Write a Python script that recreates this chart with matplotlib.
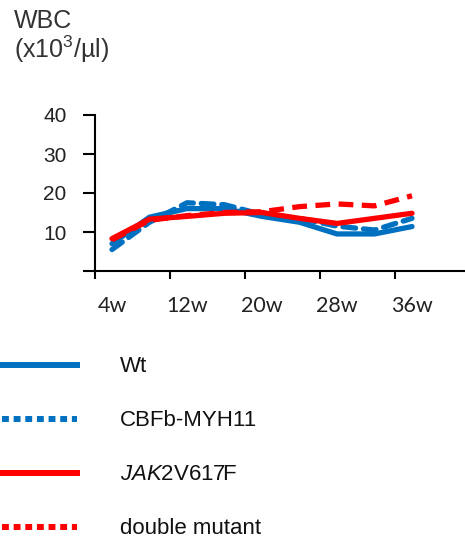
import numpy as np
import matplotlib.pyplot as plt
from matplotlib.lines import Line2D

plt.rcParams['font.family'] = ['Liberation Sans', 'DejaVu Sans']
plt.rcParams['mathtext.fontset'] = 'custom'
plt.rcParams['mathtext.rm'] = 'Liberation Sans'
plt.rcParams['mathtext.it'] = 'Liberation Sans:italic'

# data
weeks = [4, 8, 12, 16, 20, 24, 28, 32, 36]
wt = [7.0, 13.8, 16.0, 16.0, 14.0, 12.5, 9.5, 9.5, 11.4]
cbfb = [5.5, 12.5, 17.5, 17.0, 14.5, 13.5, 11.5, 10.5, 13.5]
jak2 = [8.3, 13.3, 14.0, 14.8, 15.0, 13.5, 12.2, 13.5, 14.8]
double = [8.0, 13.0, 14.2, 15.0, 15.2, 16.5, 17.2, 16.7, 19.3]
xlabels = ['4w', '12w', '20w', '28w', '36w']
yticks = [10, 20, 30, 40]

blue = '#0070C0'
red = '#FF0000'

W, H = 465, 542
fig = plt.figure(figsize=(W/100, H/100), dpi=100)
ax = fig.add_axes([95/W, 1-271/H, (W-95)/W, 156/H])

off = 17/9.375  # tick marks sit left of the labels
ax.plot(weeks, wt, color=blue, lw=3.8, solid_capstyle='round', zorder=3)
ax.plot(weeks, cbfb, color=blue, lw=3.8, dashes=(2.4, 1.5), dash_capstyle='round', zorder=4)
ax.plot(weeks, double, color=red, lw=3.8, dashes=(2.8, 1.6), zorder=5)
ax.plot(weeks, jak2, color=red, lw=3.8, solid_capstyle='round', zorder=6)

ax.set_xlim(4-off, 4-off+370/9.375)
ax.set_ylim(0, 40)
for s in ['top', 'right']:
    ax.spines[s].set_visible(False)
for s in ['left', 'bottom']:
    ax.spines[s].set_linewidth(1.5)

ax.set_xticks([4, 12, 20, 28, 36])
ax.set_xticklabels(xlabels, family=['Lato', 'DejaVu Sans'], fontsize=15.5, color='#222222')
ax.set_xticks([t-off for t in [4, 12, 20, 28, 36]], minor=True)
ax.tick_params(axis='x', which='major', length=0, pad=18)
ax.tick_params(axis='x', which='minor', length=6, width=1.5, direction='out')
ax.set_yticks([0] + yticks)
ax.set_yticklabels([''] + [str(v) for v in yticks], fontsize=15, color='#222222')
ax.tick_params(axis='y', length=8.5, width=1.5, pad=12)

fig.text(14/W, 1-28/H, 'WBC', fontsize=18, color='#333333', va='baseline')
fig.text(14/W, 1-58/H, '(x10$^3$/µl)', fontsize=18, color='#333333', va='baseline')

# legend
lg = fig.add_axes([0, 0, 1, 1])
lg.set_xlim(0, W)
lg.set_ylim(H, 0)
lg.axis('off')
names = ['Wt', 'CBFb-MYH11', '$\\it{JAK2}$V617F', 'double mutant']
cols = [blue, blue, red, red]
dotted = [False, True, False, True]
ys = [365, 419, 473, 527]
for n, c, d, y in zip(names, cols, dotted, ys):
    if d:
        lg.add_line(Line2D([2, 77], [y, y], color=c, lw=4.3, dashes=(1.15, 0.8)))
    else:
        lg.add_line(Line2D([2, 77], [y, y], color=c, lw=4.3))
    lg.text(120, y+7, n, fontsize=16, va='baseline', ha='left', color='#111111')

fig.savefig('out.png', dpi=100)
